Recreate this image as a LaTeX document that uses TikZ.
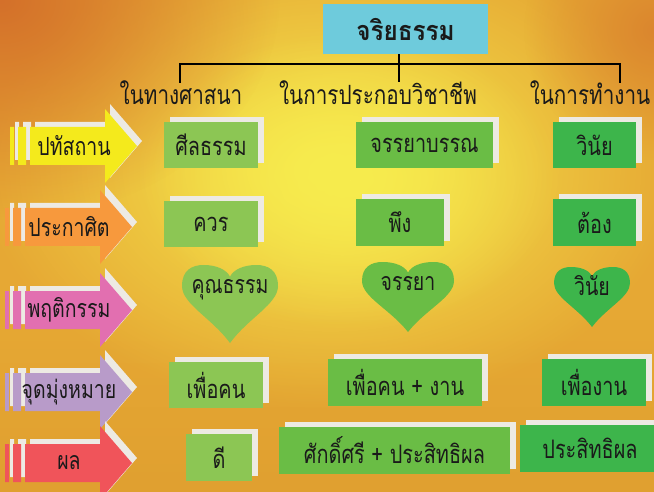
\documentclass[tikz,border=0pt]{standalone}
\usepackage{fontspec}
\setmainfont[Script=Thai, FakeStretch=0.78]{Loma}
\newfontfamily\titlefont[Script=Thai, FakeStretch=0.9]{Loma}
\usetikzlibrary{shadows,fadings}
\definecolor{bgbase}{HTML}{E6A834}
\definecolor{bgyellow}{HTML}{F7EC4E}
\definecolor{bgorange}{HTML}{D4702A}
\definecolor{bggold}{HTML}{E0A030}
\definecolor{titlecyan}{HTML}{6ECBDC}
\definecolor{gone}{HTML}{8CC654}
\definecolor{gtwo}{HTML}{6ABD45}
\definecolor{gthree}{HTML}{3DB54B}
\definecolor{shadowgray}{HTML}{EDEAE3}
\definecolor{ayellow}{HTML}{F4EA1C}
\definecolor{aorange}{HTML}{F7993D}
\definecolor{apink}{HTML}{E26FB0}
\definecolor{alav}{HTML}{B89BC9}
\definecolor{ared}{HTML}{F0545A}
\definecolor{ink}{HTML}{1A1A1A}
\tikzfading[name=blobfade, inner color=transparent!0, outer color=transparent!100]
\tikzset{
  gbox/.style={rectangle, inner sep=0pt, text=ink,
    font=\fontsize{25.5}{28}\selectfont,
    copy shadow={shadow xshift=6pt, shadow yshift=5pt, fill=shadowgray, draw=none}},
  lbl/.style={inner sep=0pt, text=ink, font=\fontsize{26.5}{28}\selectfont},
  atext/.style={inner sep=0pt, text=ink, font=\fontsize{25}{28}\selectfont},
  htext/.style={inner sep=0pt, text=ink, font=\fontsize{25}{28}\selectfont},
  treeline/.style={line width=2.8pt, black},
  titlebox/.style={rectangle, fill=titlecyan, inner sep=0pt, minimum width=165pt,
    minimum height=50pt, font=\titlefont\bfseries\fontsize{27}{30}\selectfont, text=ink}
}
\newcommand\stparrow[3]{% cy, dx, colour
  \path[fill=#3, copy shadow={shadow xshift=5pt, shadow yshift=5pt, fill=shadowgray, draw=none}]
   (#2+5,#1-19) rectangle (#2+9,#1+19)
   (#2+13,#1-19) rectangle (#2+21,#1+19)
   (#2+25,#1-19) -- (#2+100,#1-19) -- (#2+100,#1-37) -- (#2+132,#1)
   -- (#2+100,#1+37) -- (#2+100,#1+19) -- (#2+25,#1+19) -- cycle;}
\newcommand\heartshape[5]{% cx, top, height, halfwidth, colour
  \begin{scope}[shift={(#1,#2)}, xscale=#4, yscale=#3]
  \fill[#5] (0,1) .. controls (-0.38,0.68) and (-1,0.5) .. (-1,0.27)
    .. controls (-1,0.07) and (-0.8,0) .. (-0.55,0)
    .. controls (-0.28,0) and (-0.07,0.06) .. (0,0.15)
    .. controls (0.07,0.06) and (0.28,0) .. (0.55,0)
    .. controls (0.8,0) and (1,0.07) .. (1,0.27)
    .. controls (1,0.5) and (0.38,0.68) .. (0,1) -- cycle;
  \end{scope}}
\begin{document}
\begin{tikzpicture}[x=1pt,y=-1pt]
\useasboundingbox (0,0) rectangle (654,492);
\begin{scope}
\clip (0,0) rectangle (654,492);
% background
\fill[bgbase] (0,0) rectangle (654,492);
\fill[bggold, path fading=north] (0,320) rectangle (654,492);
\fill[bgyellow, path fading=blobfade] (330,170) ellipse [x radius=350pt, y radius=240pt];
\fill[bgyellow, path fading=blobfade] (350,180) ellipse [x radius=210pt, y radius=150pt];
\fill[bgorange, path fading=blobfade] (0,0) ellipse [x radius=280pt, y radius=220pt];
\fill[bgorange!60!bgbase, path fading=blobfade] (654,30) ellipse [x radius=130pt, y radius=130pt];

% title and tree
\node[titlebox] (title) at (405.5,29) {จริยธรรม};
\coordinate (lega) at (180,82);
\coordinate (legb) at (399,82);
\coordinate (legc) at (620,82);
\coordinate (bar) at (399,64);
\draw[treeline] (legb |- title.south) -- (legb);
\draw[treeline, line cap=rect] (lega) -- (lega |- bar) -- (legc |- bar) -- (legc);

\node[lbl] (la) at (181,93) {ในทางศาสนา};
\node[lbl] (lb) at (378,93) {ในการประกอบวิชาชีพ};
\node[lbl] (lc) at (590,93) {ในการทำงาน};

% left arrows
\stparrow{146}{5}{ayellow}
\node[atext] (ra) at (74,146) {ปทัสถาน};
\stparrow{227}{0}{aorange}
\node[atext] (rb) at (69,227) {ประกาศิต};
\stparrow{310}{0}{apink}
\node[atext] (rc) at (69,310) {พฤติกรรม};
\stparrow{392}{0}{alav}
\node[atext] (rd) at (69,392) {จุดมุ่งหมาย};
\stparrow{463}{0}{ared}
\node[atext] (re) at (69,463) {ผล};

% column 1
\node[gbox, fill=gone, minimum width=94pt, minimum height=46pt] (b11) at (211,145) {ศีลธรรม};
\node[gbox, fill=gone, minimum width=94pt, minimum height=46pt] (b21) at (211,224) {ควร};
\heartshape{230}{265}{78}{48}{gone}
\node[htext] (h1) at (230,290) {คุณธรรม};
\node[gbox, fill=gone, minimum width=94pt, minimum height=46pt] (b41) at (216,385) {เพื่อคน};
\node[gbox, fill=gone, minimum width=66pt, minimum height=47pt] (b51) at (219,457.5) {ดี};

% column 2
\node[gbox, fill=gtwo, minimum width=137pt, minimum height=46pt] (b12) at (424.5,145) {จรรยาบรรณ};
\node[gbox, fill=gtwo, minimum width=88pt, minimum height=47pt] (b22) at (400,222.5) {พึง};
\heartshape{408}{262}{70}{46}{gtwo}
\node[htext] (h2) at (408,284) {จรรยา};
\node[gbox, fill=gtwo, minimum width=154pt, minimum height=47pt] (b42) at (405,382.5) {เพื่อคน + งาน};
\node[gbox, fill=gtwo, minimum width=231pt, minimum height=47pt] (b52) at (394.5,450.5) {ศักดิ์ศรี + ประสิทธิผล};

% column 3
\node[gbox, fill=gthree, minimum width=83pt, minimum height=46pt] (b13) at (594.5,145) {วินัย};
\node[gbox, fill=gthree, minimum width=83pt, minimum height=47pt] (b23) at (594.5,222.5) {ต้อง};
\heartshape{592}{267}{60}{38}{gthree}
\node[htext] (h3) at (592,286) {วินัย};
\node[gbox, fill=gthree, minimum width=104pt, minimum height=47pt] (b43) at (594,382.5) {เพื่องาน};
\node[gbox, fill=gthree, minimum width=140pt, minimum height=47pt] (b53) at (590,448.5) {ประสิทธิผล};
\end{scope}
\end{tikzpicture}
\end{document}
